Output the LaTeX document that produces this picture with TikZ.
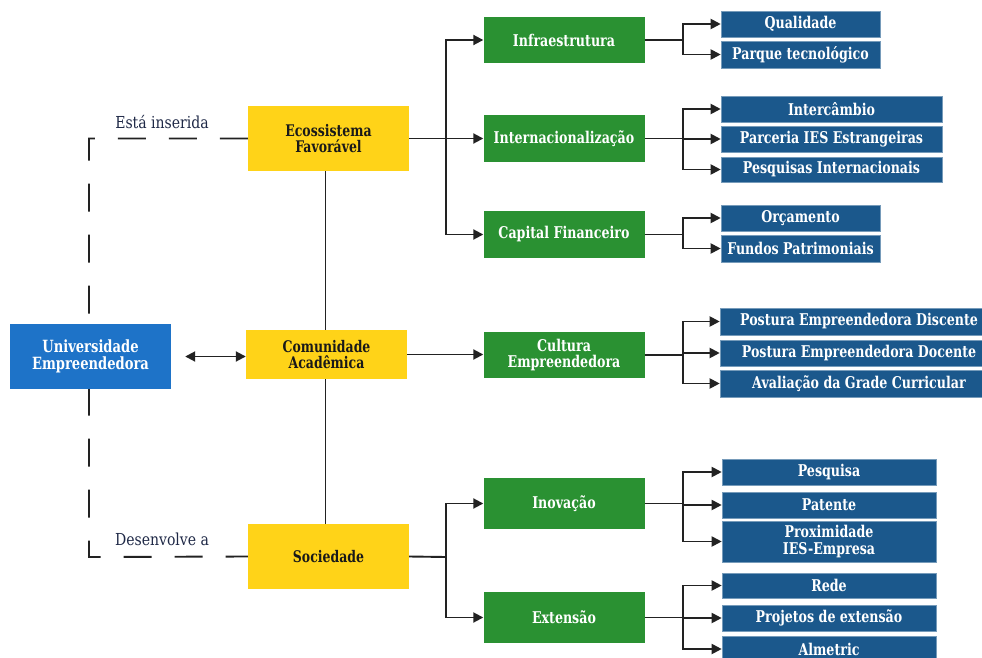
\documentclass[tikz,border=0pt]{standalone}
\usepackage{fontspec}
\setmainfont{DejaVu Serif}[FakeStretch=0.78]
\newfontfamily\lblfont{DejaVu Serif}[FakeStretch=0.85]
\usetikzlibrary{arrows.meta,backgrounds}
\definecolor{ygold}{RGB}{255,211,24}
\definecolor{ublue}{RGB}{30,115,200}
\definecolor{ggreen}{RGB}{42,145,50}
\definecolor{navy}{RGB}{27,88,140}
\definecolor{lineclr}{RGB}{34,34,34}
\definecolor{lblclr}{RGB}{30,40,70}
\begin{document}
\begin{tikzpicture}[x=1pt,y=-1pt,
  basebox/.style={rectangle,inner sep=0pt,align=center},
  ybox/.style={basebox,fill=ygold,text=black!90,minimum width=161pt,
    font=\bfseries\fontsize{16}{16.5}\selectfont},
  ubox/.style={basebox,fill=ublue,text=white,minimum width=161pt,minimum height=65pt,
    font=\bfseries\fontsize{16.8}{17}\selectfont},
  gbox/.style={basebox,fill=ggreen,text=white,minimum width=161pt,
    font=\bfseries\fontsize{16.2}{16.5}\selectfont},
  ntext/.style={text=white,font=\bfseries\fontsize{16.2}{17}\selectfont},
  nbox/.style={basebox,ntext,fill=navy,draw=navy!60!white,line width=0.6pt},
  lbl/.style={text=lblclr,font=\lblfont\fontsize{16.5}{17}\selectfont,inner sep=0pt},
  conn/.style={draw=lineclr,line width=1.9pt},
  arr/.style={conn,-{Triangle[length=10pt,width=10pt]}},
  dbl/.style={conn,{Triangle[length=10pt,width=10pt]}-{Triangle[length=10pt,width=10pt]}},
  dsh/.style={conn,dash pattern=on 28pt off 23pt}
]
\useasboundingbox (0,0) rectangle (982,658);

% left column
\node[ubox] (uni) at (90.5,356.5) {Universidade\\Empreendedora};
\node[ybox,minimum height=65pt] (eco) at (328.5,138.5) {Ecossistema\\Favorável};
\node[ybox,minimum height=49pt] (com) at (326.5,354.5) {Comunidade\\Acadêmica};
\node[ybox,minimum height=65pt] (soc) at (328.5,556.5) {Sociedade};

\node[lbl] (l1) at (162,122) {Está inserida};
\node[lbl] (l2) at (162,539) {Desenvolve a};

% green boxes
\node[gbox,minimum height=46pt] (infra) at (564,40) {Infraestrutura};
\node[gbox,minimum height=47pt] (inter) at (564,138.5) {Internacionalização};
\node[gbox,minimum height=47pt] (cap) at (564,234.5) {Capital Financeiro};
\node[gbox,minimum height=46pt] (cult) at (564,355) {Cultura\\Empreendedora};
\node[gbox,minimum height=51pt] (inov) at (564,503.5) {Inovação};
\node[gbox,minimum height=51pt] (ext) at (564,617.5) {Extensão};

% navy boxes
\node[nbox,minimum width=159pt,minimum height=26pt] (qual) at (800.5,24) {Qualidade};
\node[nbox,minimum width=159pt,minimum height=27pt] (parq) at (800.5,54.5) {Parque tecnológico};
\node[nbox,minimum width=221pt,minimum height=26pt] (interc) at (831.5,109) {Intercâmbio};
\node[nbox,minimum width=221pt,minimum height=26pt] (parc) at (831.5,139) {Parceria IES Estrangeiras};
\node[nbox,minimum width=221pt,minimum height=25pt] (pint) at (831.5,169.5) {Pesquisas Internacionais};
\node[nbox,minimum width=159pt,minimum height=26pt] (orc) at (800.5,218) {Orçamento};
\node[nbox,minimum width=159pt,minimum height=27pt] (fund) at (800.5,248.5) {Fundos Patrimoniais};
\node[nbox,minimum width=270pt,minimum height=27pt] (pd) at (855,321.5) {};
\node[ntext,inner sep=0pt] (pdt) at (859,321.5) {Postura Empreendedora Discente};
\node[nbox,minimum width=270pt,minimum height=26pt] (pdo) at (855,353) {};
\node[ntext,inner sep=0pt] (pdot) at (859,353) {Postura Empreendedora Docente};
\node[nbox,minimum width=270pt,minimum height=27pt] (aval) at (855,383.5) {};
\node[ntext,inner sep=0pt] (avalt) at (859,383.5) {Avaliação da Grade Curricular};
\node[nbox,minimum width=214pt,minimum height=26pt] (pesq) at (829,472) {Pesquisa};
\node[nbox,minimum width=214pt,minimum height=26pt] (pat) at (829,505) {Patente};
\node[nbox,minimum width=214pt,minimum height=41pt] (prox) at (829,541.5) {Proximidade\\IES-Empresa};
\node[nbox,minimum width=214pt,minimum height=25pt] (rede) at (829,585.5) {Rede};
\node[nbox,minimum width=214pt,minimum height=26pt] (proj) at (829,618) {Projetos de extensão};
\node[nbox,minimum width=214pt,minimum height=26pt] (alm) at (829,649) {Almetric};

% background connectors
\begin{pgfonlayer}{background}
  \coordinate (dtl) at (89,138.5);
  \coordinate (dbl) at (89,557);
  \draw[dsh] (eco.west) -- (dtl) -- (dbl) -- (soc.west);
  \draw[conn] ([xshift=-3pt]eco.south) -- ([xshift=-3pt]soc.north);
\end{pgfonlayer}

\draw[dbl] ([xshift=14pt]uni.east) -- (uni.east -| com.west);

% Ecossistema branches
\coordinate (b1) at (446,138.5);
\draw[conn] (eco.east) -- (b1);
\draw[arr] (b1) |- (infra.west);
\draw[arr] (b1) -- (inter.west);
\draw[arr] (b1) |- (cap.west);

% Comunidade -> Cultura
\draw[arr] (com.east) -- (com.east -| cult.west);

% Sociedade branches
\coordinate (b2) at (446,557);
\draw[conn] (soc.east) -- (b2);
\draw[arr] (b2) |- (inov.west);
\draw[arr] (b2) |- (ext.west);

% right branches
\coordinate (c1) at (683,40);
\draw[conn] (infra.east) -- (c1);
\draw[arr] (c1) |- (qual.west);
\draw[arr] (c1) |- (parq.west);

\coordinate (c2) at (683,138.5);
\draw[conn] (inter.east) -- (c2);
\draw[arr] (c2) |- (interc.west);
\draw[arr] (c2) |- (parc.west);
\draw[arr] (c2) |- (pint.west);

\coordinate (c3) at (683,234.5);
\draw[conn] (cap.east) -- (c3);
\draw[arr] (c3) |- (orc.west);
\draw[arr] (c3) |- (fund.west);

\coordinate (c4) at (683,355);
\draw[conn] (cult.east) -- (c4);
\draw[arr] (c4) |- (pd.west);
\draw[arr] (c4) |- (pdo.west);
\draw[arr] (c4) |- (aval.west);

\coordinate (c5) at (683,503.5);
\draw[conn] (inov.east) -- (c5);
\draw[arr] (c5) |- (pesq.west);
\draw[arr] (c5) |- (pat.west);
\draw[arr] (c5) |- (prox.west);

\coordinate (c6) at (683,617.5);
\draw[conn] (ext.east) -- (c6);
\draw[arr] (c6) |- (rede.west);
\draw[arr] (c6) |- (proj.west);
\draw[arr] (c6) |- (alm.west);
\end{tikzpicture}
\end{document}
